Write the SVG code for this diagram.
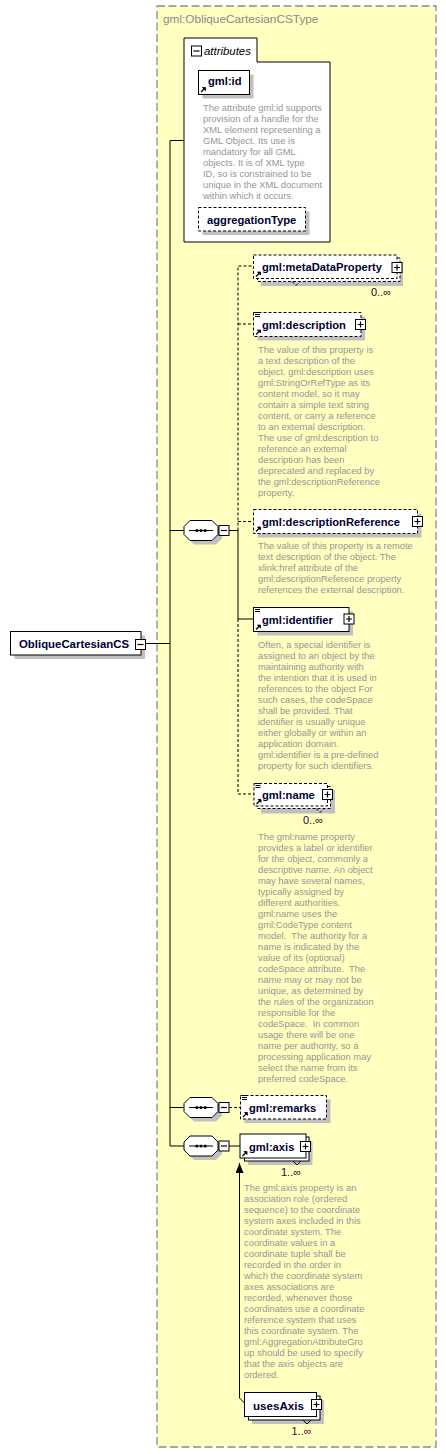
<svg xmlns="http://www.w3.org/2000/svg" xmlns:xlink="http://www.w3.org/1999/xlink" width="446" height="1454" viewBox="0 0 446 1454">
<style>
.bg{fill:#ffffc0;stroke:#8a8a8a;stroke-width:1.3;stroke-dasharray:8,3.5}
.title{font-family:"Liberation Sans",Arial,sans-serif;font-size:11.8px;fill:#8a8a8a}
.box{fill:#fff;stroke:#000;stroke-width:1}
.dbox{fill:#fff;stroke:#000;stroke-width:1;stroke-dasharray:3,2}
.sh{fill:#c0c0c0;stroke:none}
.name{font-family:"Liberation Sans",Arial,sans-serif;font-size:11.2px;font-weight:bold;fill:#000033}
.doc{font-family:"Liberation Sans",Arial,sans-serif;font-size:9.4px;fill:#969696}
.occ{font-family:"Liberation Sans",Arial,sans-serif;font-size:11px;fill:#300030}
.ln{fill:none;stroke:#000;stroke-width:1}
.dl{fill:none;stroke:#000;stroke-width:1;stroke-dasharray:3,2}
.ic{fill:#fff;stroke:#000;stroke-width:1}
.ib{fill:none;stroke:#000;stroke-width:1.2}
</style>
<defs>
<g id="plus"><rect class="ic" x="-5" y="-5" width="10" height="10"/><path class="ib" d="M-3,0H3M0,-3V3"/></g>
<g id="minus"><rect class="ic" x="-5" y="-5" width="10" height="10"/><path class="ib" d="M-3,0H3"/></g>
<g id="ref"><path d="M0,0L4,-4" stroke="#000" stroke-width="1.2"/><path d="M1.5,-4.5H4.5V-1.5Z" fill="#000" stroke="#000" stroke-width="0.8"/></g>
<g id="docic"><path d="M0,0.5H5M0,2.5H5M0,4.5H5" stroke="#000" stroke-width="1"/></g>
<g id="seq">
<path class="sh" d="M10,4H32L38,10V18L32,24H10L4,18V10Z"/>
<path class="box" d="M6,0H28L34,6V14L28,20H6L0,14V6Z"/>
<path d="M5,10H29" stroke="#000" stroke-width="1"/>
<rect x="11.5" y="8.8" width="2.6" height="2.6" fill="#000"/>
<rect x="15.7" y="8.8" width="2.6" height="2.6" fill="#000"/>
<rect x="19.9" y="8.8" width="2.6" height="2.6" fill="#000"/>
</g>
<marker id="arr" viewBox="0 0 10 8" refX="10" refY="4" markerWidth="10" markerHeight="8" markerUnits="userSpaceOnUse" orient="auto-start-reverse">
<path d="M0,0L10,4L0,8Z" fill="#000"/>
</marker>
</defs>

<g id="type">
<rect class="bg" x="157" y="6" width="279" height="1441"/>
<text class="title" x="163" y="23">gml:ObliqueCartesianCSType</text>
</g>

<g id="connectors">
<path class="ln" d="M146,643.5H170M170,140.5V1146M170,140.5H184"/>
<path class="ln" d="M170,530.5H184M229,530.5H238"/>
<path class="dl" d="M238,530.5V266H253.5M238,324H253.5M238,521.5H253.5"/>
<path class="ln" d="M238,530.5V619H253.5"/>
<path class="dl" d="M238,619V794H254"/>
<path class="ln" d="M170,1107.5H184M170,1146H184"/>
<path class="dl" d="M229,1107.5H240.5"/>
<path class="ln" d="M229,1146H240"/>
<path class="ln" d="M239.5,1163V1398L244.5,1403" marker-start="url(#arr)"/>
</g>

<g id="root">
<rect class="sh" x="14.5" y="635.5" width="130.5" height="23.5"/>
<rect class="box" x="10.5" y="631.5" width="130.5" height="23.5"/>
<text class="name" x="19" y="648" style="font-size:11.4px">ObliqueCartesianCS</text>
<use href="#minus" x="140.5" y="644.5"/>
</g>

<g id="attributes">
<path class="box" d="M184,38H257V62H330V242H184Z"/>
<use href="#minus" x="196.5" y="51"/>
<text x="204" y="55" style="font-family:'Liberation Sans',Arial,sans-serif;font-size:11.4px;font-style:italic;fill:#000">attributes</text>
</g>

<g id="gml-id">
<rect class="sh" x="202.5" y="74.5" width="51" height="24"/>
<rect class="box" x="198.5" y="70.5" width="51" height="24"/>
<text class="name" x="208" y="85">gml:id</text>
<use href="#ref" x="201" y="92"/>
<text class="doc">
<tspan x="203" y="110.5">The attribute gml:id supports</tspan>
<tspan x="203" y="121.5">provision of a handle for the</tspan>
<tspan x="203" y="132.5">XML element representing a</tspan>
<tspan x="203" y="143.5">GML Object. Its use is</tspan>
<tspan x="203" y="154.5">mandatory for all GML</tspan>
<tspan x="203" y="165.5">objects. It is of XML type</tspan>
<tspan x="203" y="176.5">ID, so is constrained to be</tspan>
<tspan x="203" y="187.5">unique in the XML document</tspan>
<tspan x="203" y="198.5">within which it occurs.</tspan>
</text>
</g>

<g id="aggregationType">
<rect class="sh" x="202.5" y="211.5" width="107" height="23.5"/>
<rect class="dbox" x="198.5" y="207.5" width="107" height="23.5"/>
<text class="name" x="207" y="223.5">aggregationType</text>
</g>

<g id="seq1"><use href="#seq" x="184" y="520.5"/><use href="#minus" x="224" y="530.5"/></g>
<g id="seq2"><use href="#seq" x="184" y="1097.5"/><use href="#minus" x="224" y="1107.5"/></g>
<g id="seq3"><use href="#seq" x="184" y="1136"/><use href="#minus" x="224" y="1146"/></g>

<g id="metaDataProperty">
<rect class="sh" x="261" y="262" width="142" height="24"/>
<rect class="dbox" x="257.5" y="258" width="142.5" height="23.5"/>
<path d="M292,281.5L296,285.5L300,281.5" class="dl"/>
<rect class="dbox" x="253.5" y="255" width="143.5" height="23.5"/>
<text class="name" x="262" y="270.5">gml:metaDataProperty</text>
<use href="#ref" x="256" y="276.5"/>
<use href="#plus" x="397" y="267.5"/>
<text class="occ" x="371" y="296">0..∞</text>
</g>

<g id="description">
<rect class="sh" x="257.5" y="316.5" width="107.5" height="24"/>
<rect class="dbox" x="253.5" y="312.5" width="107.5" height="24"/>
<use href="#docic" x="255" y="312"/>
<text class="name" x="262" y="328.5">gml:description</text>
<use href="#ref" x="256" y="334.5"/>
<use href="#plus" x="360.5" y="324.5"/>
<text class="doc">
<tspan x="258" y="352.5">The value of this property is</tspan>
<tspan x="258" y="363.5">a text description of the</tspan>
<tspan x="258" y="374.5">object. gml:description uses</tspan>
<tspan x="258" y="385.5">gml:StringOrRefType as its</tspan>
<tspan x="258" y="396.5">content model, so it may</tspan>
<tspan x="258" y="407.5">contain a simple text string</tspan>
<tspan x="258" y="418.5">content, or carry a reference</tspan>
<tspan x="258" y="429.5">to an external description.</tspan>
<tspan x="258" y="440.5">The use of gml:description to</tspan>
<tspan x="258" y="451.5">reference an external</tspan>
<tspan x="258" y="462.5">description has been</tspan>
<tspan x="258" y="473.5">deprecated and replaced by</tspan>
<tspan x="258" y="484.5">the gml:descriptionReference</tspan>
<tspan x="258" y="495.5">property.</tspan>
</text>
</g>

<g id="descriptionReference">
<rect class="sh" x="257.5" y="513.5" width="164" height="24"/>
<rect class="dbox" x="253.5" y="509.5" width="164" height="24"/>
<text class="name" x="262" y="525.5">gml:descriptionReference</text>
<use href="#ref" x="256" y="531.5"/>
<use href="#plus" x="417.5" y="521.5"/>
<text class="doc">
<tspan x="258" y="549">The value of this property is a remote</tspan>
<tspan x="258" y="560">text description of the object. The</tspan>
<tspan x="258" y="571">xlink:href attribute of the</tspan>
<tspan x="258" y="582">gml:descriptionReference property</tspan>
<tspan x="258" y="593">references the external description.</tspan>
</text>
</g>

<g id="identifier">
<rect class="sh" x="257.5" y="611.5" width="95.5" height="24"/>
<rect class="box" x="253.5" y="607.5" width="95.5" height="24"/>
<use href="#docic" x="255" y="607"/>
<text class="name" x="262" y="623.5">gml:identifier</text>
<use href="#ref" x="256" y="629.5"/>
<use href="#plus" x="349" y="619"/>
<text class="doc">
<tspan x="258" y="647.5">Often, a special identifier is</tspan>
<tspan x="258" y="658.5">assigned to an object by the</tspan>
<tspan x="258" y="669.5">maintaining authority with</tspan>
<tspan x="258" y="680.5">the intention that it is used in</tspan>
<tspan x="258" y="691.5">references to the object For</tspan>
<tspan x="258" y="702.5">such cases, the codeSpace</tspan>
<tspan x="258" y="713.5">shall be provided. That</tspan>
<tspan x="258" y="724.5">identifier is usually unique</tspan>
<tspan x="258" y="735.5">either globally or within an</tspan>
<tspan x="258" y="746.5">application domain.</tspan>
<tspan x="258" y="757.5">gml:identifier is a pre-defined</tspan>
<tspan x="258" y="768.5">property for such identifiers.</tspan>
</text>
</g>

<g id="name">
<rect class="sh" x="261" y="790" width="74" height="23.5"/>
<rect class="dbox" x="257.5" y="786.5" width="73" height="22"/>
<path d="M316,808.5L320,812.5L324,808.5" class="dl"/>
<rect class="dbox" x="254" y="783.5" width="73.5" height="22.5"/>
<use href="#docic" x="255.5" y="783"/>
<text class="name" x="262" y="798.5">gml:name</text>
<use href="#ref" x="256.5" y="804"/>
<use href="#plus" x="327.5" y="794.5"/>
<text class="occ" x="303" y="824">0..∞</text>
<text class="doc">
<tspan x="258" y="839.5">The gml:name property</tspan>
<tspan x="258" y="850.5">provides a label or identifier</tspan>
<tspan x="258" y="861.5">for the object, commonly a</tspan>
<tspan x="258" y="872.5">descriptive name. An object</tspan>
<tspan x="258" y="883.5">may have several names,</tspan>
<tspan x="258" y="894.5">typically assigned by</tspan>
<tspan x="258" y="905.5">different authorities.</tspan>
<tspan x="258" y="916.5">gml:name uses the</tspan>
<tspan x="258" y="927.5">gml:CodeType content</tspan>
<tspan x="258" y="938.5" xml:space="preserve">model.  The authority for a</tspan>
<tspan x="258" y="949.5">name is indicated by the</tspan>
<tspan x="258" y="960.5">value of its (optional)</tspan>
<tspan x="258" y="971.5" xml:space="preserve">codeSpace attribute.  The</tspan>
<tspan x="258" y="982.5">name may or may not be</tspan>
<tspan x="258" y="993.5">unique, as determined by</tspan>
<tspan x="258" y="1004.5">the rules of the organization</tspan>
<tspan x="258" y="1015.5">responsible for the</tspan>
<tspan x="258" y="1026.5" xml:space="preserve">codeSpace.  In common</tspan>
<tspan x="258" y="1037.5">usage there will be one</tspan>
<tspan x="258" y="1048.5">name per authority, so a</tspan>
<tspan x="258" y="1059.5">processing application may</tspan>
<tspan x="258" y="1070.5">select the name from its</tspan>
<tspan x="258" y="1081.5">preferred codeSpace.</tspan>
</text>
</g>

<g id="remarks">
<rect class="sh" x="244.5" y="1099.5" width="86" height="23.5"/>
<rect class="dbox" x="240.5" y="1095.5" width="86" height="23.5"/>
<use href="#docic" x="242" y="1095"/>
<text class="name" x="249" y="1111.5">gml:remarks</text>
<use href="#ref" x="243" y="1117"/>
</g>

<g id="axis">
<rect class="sh" x="248" y="1141" width="64.5" height="24"/>
<rect class="box" x="244.5" y="1137" width="64.5" height="24"/>
<path d="M293,1161L297,1165L301,1161" class="ln"/>
<rect class="box" x="240" y="1134" width="66" height="24"/>
<text class="name" x="249" y="1150.5">gml:axis</text>
<use href="#ref" x="242.5" y="1156"/>
<use href="#plus" x="305.5" y="1146.5"/>
<text class="occ" x="281" y="1176">1..∞</text>
<text class="doc">
<tspan x="244" y="1191">The gml:axis property is an</tspan>
<tspan x="244" y="1202">association role (ordered</tspan>
<tspan x="244" y="1213">sequence) to the coordinate</tspan>
<tspan x="244" y="1224">system axes included in this</tspan>
<tspan x="244" y="1235">coordinate system. The</tspan>
<tspan x="244" y="1246">coordinate values in a</tspan>
<tspan x="244" y="1257">coordinate tuple shall be</tspan>
<tspan x="244" y="1268">recorded in the order in</tspan>
<tspan x="244" y="1279">which the coordinate system</tspan>
<tspan x="244" y="1290">axes associations are</tspan>
<tspan x="244" y="1301">recorded, whenever those</tspan>
<tspan x="244" y="1312">coordinates use a coordinate</tspan>
<tspan x="244" y="1323">reference system that uses</tspan>
<tspan x="244" y="1334">this coordinate system. The</tspan>
<tspan x="244" y="1345">gml:AggregationAttributeGro</tspan>
<tspan x="244" y="1356">up should be used to specify</tspan>
<tspan x="244" y="1367">that the axis objects are</tspan>
<tspan x="244" y="1378">ordered.</tspan>
</text>
</g>

<g id="usesAxis">
<rect class="sh" x="252" y="1400" width="72" height="24"/>
<rect class="box" x="248.5" y="1396" width="71.5" height="24"/>
<path d="M303,1420L307,1424L311,1420" class="ln"/>
<rect class="box" x="244.5" y="1392.5" width="72" height="24"/>
<text class="name" x="253" y="1409.5" style="font-size:11.6px">usesAxis</text>
<use href="#plus" x="316.5" y="1404.5"/>
<text class="occ" x="291.5" y="1434.5" style="fill:#600030">1..∞</text>
</g>
</svg>
